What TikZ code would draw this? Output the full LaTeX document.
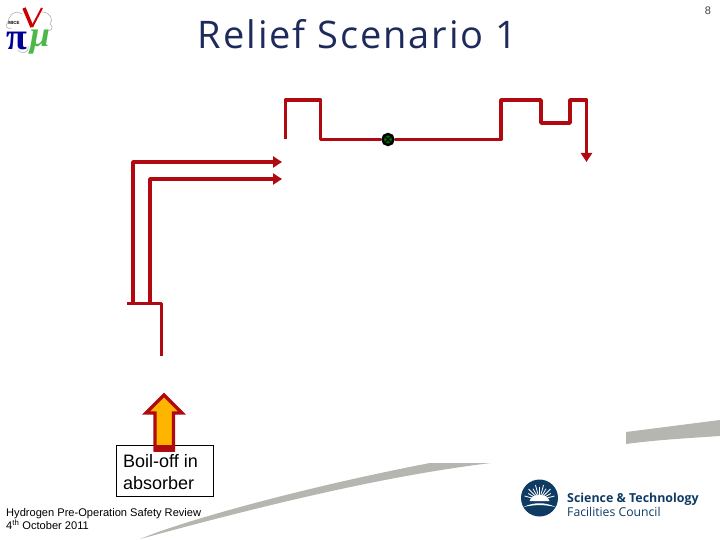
\documentclass[tikz,border=0pt]{standalone}
\usepackage{fontspec}
\setmainfont{Liberation Sans}
\newfontfamily\titlefont[LetterSpace=5]{Open Sans}
\newfontfamily\logofont{Open Sans}
\newfontfamily\greekfont{Liberation Serif}
\usetikzlibrary{arrows.meta,calc}
\definecolor{pipered}{HTML}{B00A10}
\definecolor{titleblue}{HTML}{1F2A5C}
\definecolor{navy}{HTML}{0F3B63}
\definecolor{swoosh}{HTML}{B4B6AF}
\definecolor{amber}{HTML}{FFB400}
\tikzset{
  pipe/.style={draw=pipered,line width=3.8pt,line join=round},
  pipearrow/.style={pipe,-{Triangle[length=9pt,width=11pt]}},
  label/.style={inner sep=0pt,anchor=west,align=left},
}
\begin{document}
\begin{tikzpicture}[x=1pt,y=-1pt]
\useasboundingbox (0,0) rectangle (720,540);
% swooshes
\fill[swoosh] (626,432) -- (720,420) -- (720,436) .. controls (690,438) and (655,440) .. (626,444) -- cycle;
\fill[swoosh] (140,539) .. controls (180,522) and (300,488) .. (430,463) -- (491,463) .. controls (400,474) and (290,498) .. (140,539) -- cycle;
% title and page number
\node[inner sep=0pt,text=titleblue,font=\titlefont\fontsize{38}{42}\selectfont] (title) at (357.5,34) {Relief Scenario 1};
\node[inner sep=0pt,font=\fontsize{11}{13}\selectfont,text=black!75] (page) at (708,11) {8};
% pion logo
\begin{scope}
\draw[gray!70,line width=.5pt] (8,22) .. controls (10,12) and (18,10) .. (22,14) (8,22) .. controls (4,26) and (8,30) .. (12,28) (42,12) .. controls (50,12) and (54,20) .. (50,24) (50,24) .. controls (55,28) and (50,32) .. (47,30) (28,46) .. controls (30,54) and (20,54) .. (18,50);
\node[inner sep=0pt,font=\bfseries\fontsize{4.5}{4.5}\selectfont] (mice) at (14,23) {MICE};
\node[inner sep=0pt,text=blue!60!black,font=\greekfont\bfseries\fontsize{38}{38}\selectfont] (pi) at (17,41) {π};
\node[inner sep=0pt,text=green!60!black!70!white,font=\greekfont\itshape\bfseries\fontsize{36}{36}\selectfont] (mu) at (40,42) {μ};
\draw[red!80!black,line width=3.5pt] (24,8) -- (32,27);
\draw[red!80!black,line width=2pt] (32,27) -- (42,8);
\end{scope}
% pipe waypoints
\coordinate (a0) at (285.5,139);
\coordinate (a1) at (285.5,100);
\coordinate (a2) at (320.5,100);
\coordinate (a3) at (320.5,139.5);
\node[circle,draw=black,line width=2.4pt,fill=green!40!black,minimum size=11pt,inner sep=0pt] (valve) at (388,139.5) {};
\coordinate (b1) at (501,139.5);
\coordinate (b2) at (501,100);
\coordinate (b3) at (541,100);
\coordinate (b4) at (541,123);
\coordinate (b5) at (570,123);
\coordinate (b6) at (570,100);
\coordinate (b7) at (586.5,100);
\coordinate (b8) at (586.5,162);
\draw[pipe] (a0) -- (a1) -- (a2) -- (a3) -- (valve);
\draw[pipearrow] (valve) -- (b1) -- (b2) -- (b3) -- (b4) -- (b5) -- (b6) -- (b7) -- (b8);
\draw[black,line width=1pt] ($(valve)+(-3,-3)$) -- ($(valve)+(3,3)$) ($(valve)+(-3,3)$) -- ($(valve)+(3,-3)$);
\coordinate (c0) at (127,303.5);
\coordinate (c1) at (133,303.5);
\coordinate (c2) at (133,162);
\coordinate (c3) at (282,162);
\coordinate (d1) at (150,303.5);
\coordinate (d2) at (150,179);
\coordinate (d3) at (282,179);
\coordinate (e1) at (161.5,303.5);
\coordinate (e2) at (161.5,356);
\draw[pipearrow] (c1) -- (c2) -- (c3);
\draw[pipearrow] (d1) -- (d2) -- (d3);
\draw[pipe] (c0) -- (e1) -- (e2);
% boil-off box and arrow
\node[draw=black,line width=.8pt,fill=white,minimum width=97pt,minimum height=51pt,inner sep=0pt] (box) at (164.5,470.5) {};
\draw[draw=pipered,fill=amber,line width=3.2pt,miter limit=4] (164,395) -- (182,413) -- (173.5,413) -- (173.5,450) -- (155,450) -- (155,413) -- (146,413) -- cycle;
\fill[pipered] (153.5,444.5) rectangle (175,451.5);
\node[label,font=\fontsize{18}{21.5}\selectfont] (boil) at (123,472) {Boil-off in\\absorber};
% footer
\node[label,font=\fontsize{11.1}{13}\selectfont] (foot) at (6,519.5) {Hydrogen Pre-Operation Safety Review\\4\textsuperscript{th} October 2011};
% STFC logo
\node[circle,fill=navy,minimum size=37pt,inner sep=0pt] (stfc) at (539.5,498) {};
\begin{scope}
\clip (stfc.center) circle (18.5);
\foreach \a in {-165,-150,...,-15}{
  \draw[white,line width=.8pt] ($(stfc.center)+(0,2)$) -- ++(\a:{13+mod(abs(\a),30)/6});
}
\fill[white] ($(stfc.center)+(-10,3)$) .. controls ($(stfc.center)+(-8,-5)$) and ($(stfc.center)+(8,-5)$) .. ($(stfc.center)+(10,3)$) -- cycle;
\fill[white] ($(stfc.center)+(-16,9)$) .. controls ($(stfc.center)+(-6,4)$) and ($(stfc.center)+(6,4)$) .. ($(stfc.center)+(16,9)$) .. controls ($(stfc.center)+(6,6.5)$) and ($(stfc.center)+(-6,6.5)$) .. cycle;
\end{scope}
\node[label,text=navy,font=\logofont\bfseries\fontsize{12.4}{14}\selectfont] (sci) at (567,499) {Science \& Technology};
\node[label,text=navy,font=\logofont\fontsize{12.2}{14}\selectfont] (fac) at (567,512) {Facilities Council};
\end{tikzpicture}
\end{document}
